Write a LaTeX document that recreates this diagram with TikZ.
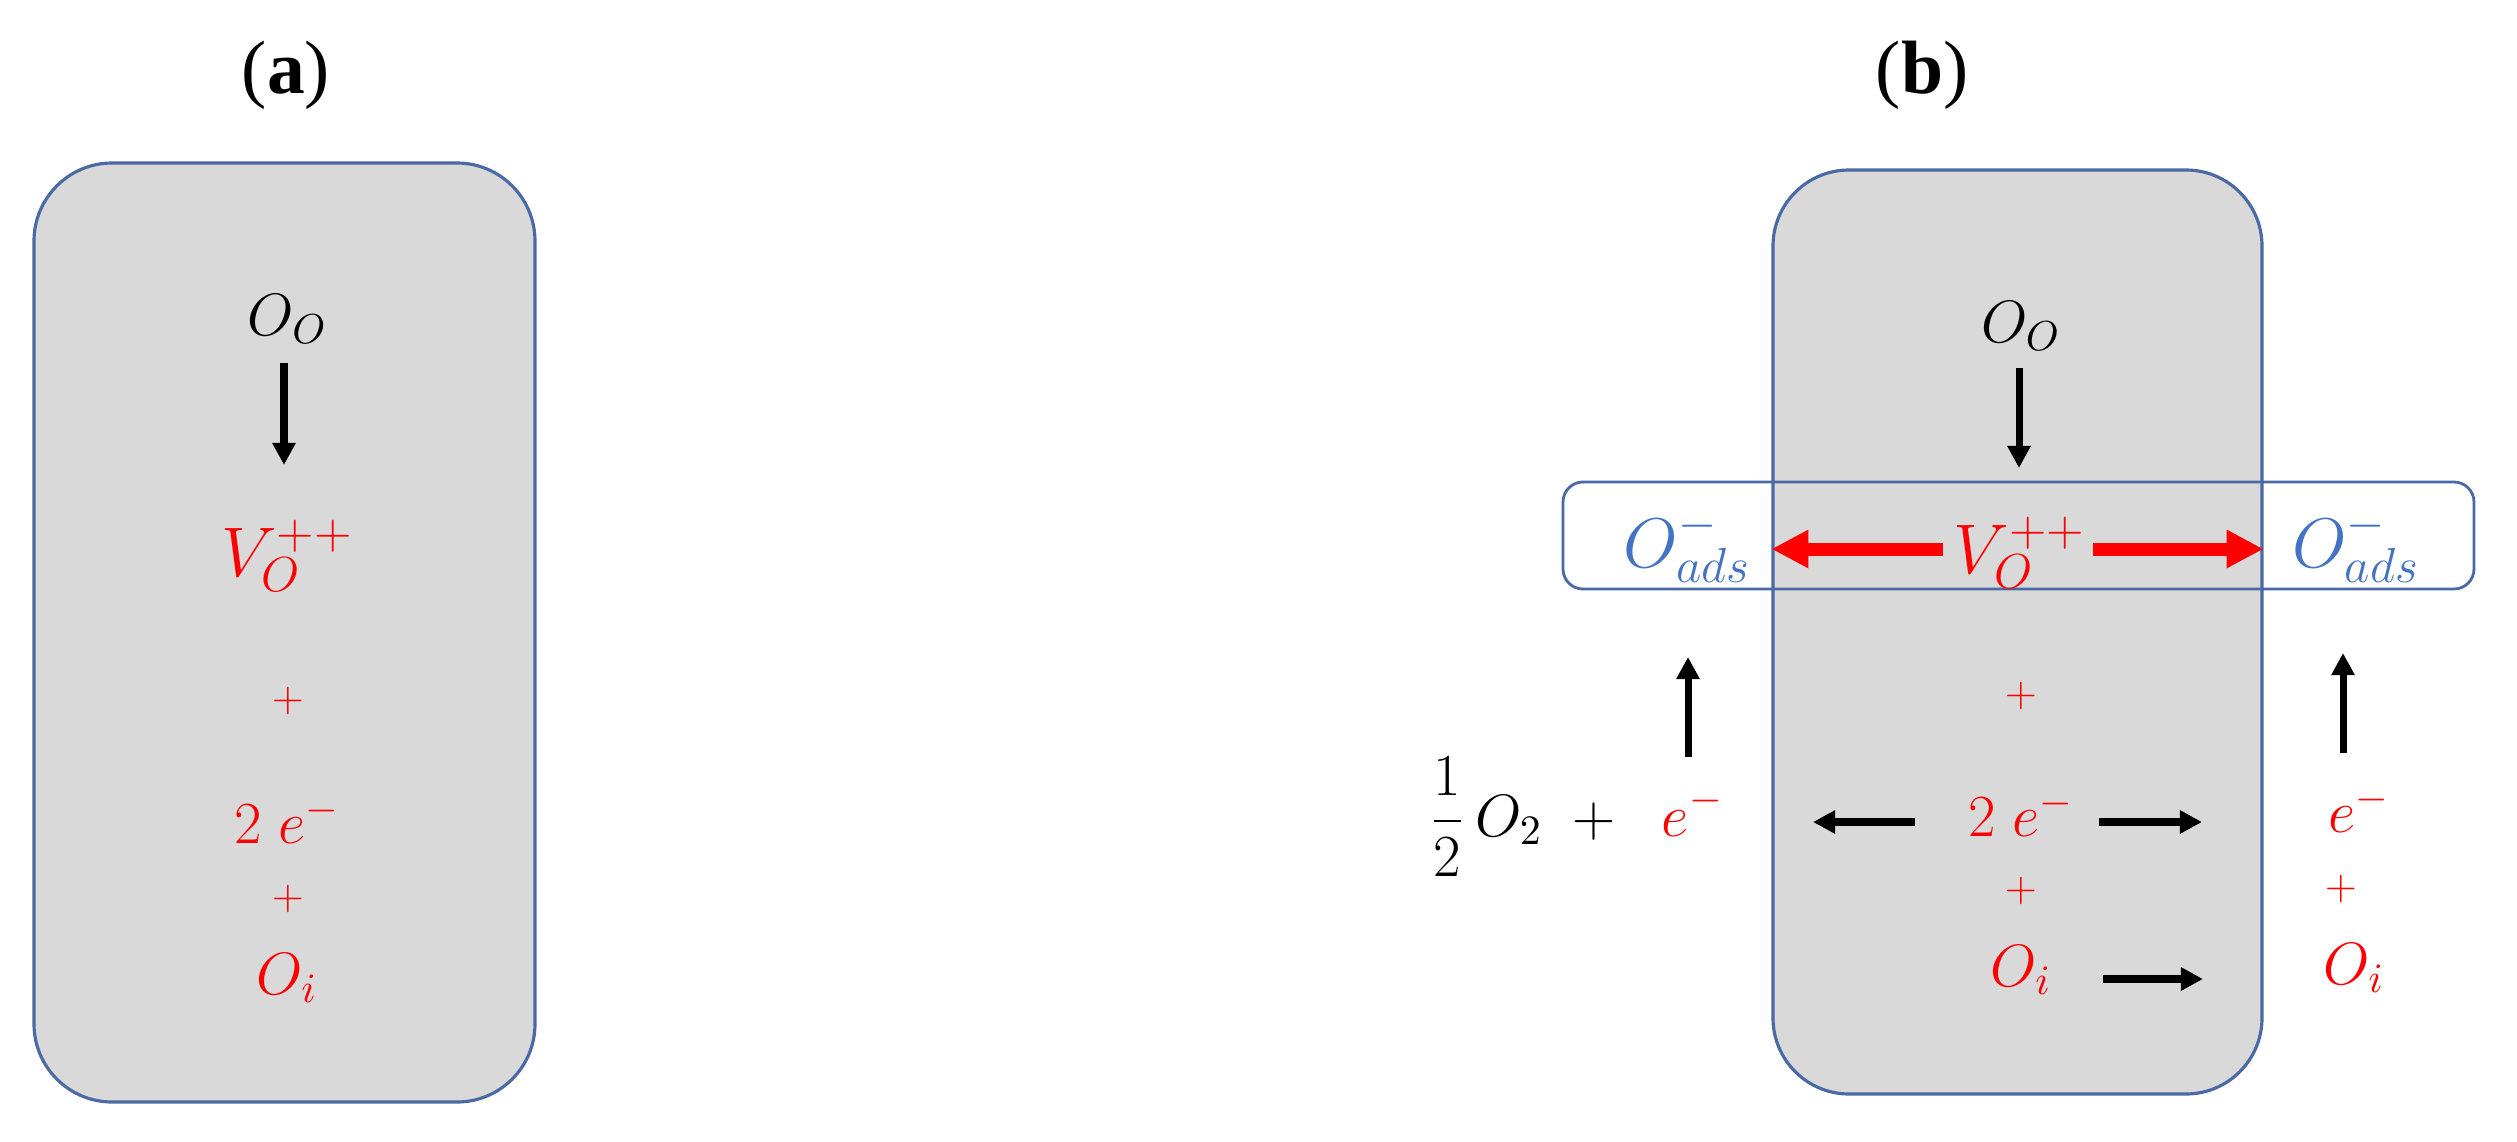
\RequirePackage{fix-cm}
\documentclass[tikz,border=0pt]{standalone}
\usepackage[no-math]{fontspec}
\newfontfamily\labfont{Liberation Serif}
\usetikzlibrary{arrows.meta}
\definecolor{boxfill}{HTML}{D9D9D9}
\definecolor{boxline}{HTML}{4A6AA5}
\definecolor{adsblue}{HTML}{4472C4}
\definecolor{chemred}{HTML}{FF0000}
\begin{document}
\begin{tikzpicture}[x=0.1mm,y=-0.1mm,
  panel/.style={draw=boxline, fill=boxfill, line width=0.9pt, inner sep=0pt},
  band/.style={draw=boxline, line width=0.8pt, rounded corners=2mm, inner sep=0pt, minimum width=91.1mm, minimum height=10.7mm},
  lbl/.style={font=\labfont\fontsize{21.5}{24}\selectfont, inner sep=0pt},
  big/.style={font=\fontsize{20}{24}\selectfont, inner sep=0pt},
  mid/.style={font=\fontsize{17}{20}\selectfont, inner sep=0pt},
  sml/.style={font=\fontsize{12}{14}\selectfont, inner sep=0pt, text=chemred},
  blackarrow/.style={-{Triangle[length=6.3pt,width=6.3pt]}, line width=2pt},
  redarrow/.style={draw=chemred, -{Triangle[length=10.5pt,width=10.2pt]}, line width=3.7pt}
]
\useasboundingbox (0,0) rectangle (2517,1142);

% ---------------- panel (a)
\node[lbl, anchor=base] (laba) at (286,93) {(\textbf{a})};
\node[panel, rounded corners=7.8mm, minimum width=50.1mm, minimum height=93.9mm] (pa) at (284.5,632.5) {};
\node[mid, anchor=base] (ooa) at (287.5,335) {$O_O$};
\coordinate (ooas) at (284,363);
\coordinate (vaan) at (284,465);
\draw[blackarrow] (ooas) -- (vaan);
\node[big, anchor=base, text=chemred] (va) at (287.5,576) {$V_O^{++}$};
\node[sml] (pa1) at (288,701) {$+$};
\node[mid, anchor=base, text=chemred] (ea) at (287,843) {$2\;e^-$};
\node[sml] (pa2) at (288,899) {$+$};
\node[mid, anchor=base, text=chemred] (oia) at (287,994) {$O_i$};

% ---------------- panel (b)
\node[lbl, anchor=base] (labb) at (1922,93) {(\textbf{b})};
\node[panel, rounded corners=7.6mm, minimum width=48.9mm, minimum height=92.4mm] (pb) at (2017.5,632) {};
\node[band] (hb) at (2018.5,535.5) {};
\node[mid, anchor=base] (oob) at (2021,342) {$O_O$};
\coordinate (oobs) at (2019,368);
\coordinate (vbn) at (2019,468);
\draw[blackarrow] (oobs) -- (vbn);
\node[big, anchor=base, text=chemred] (vb) at (2020,573) {$V_O^{++}$};
\node[big, anchor=base, text=adsblue] (adl) at (1687.5,567) {$O_{ads}^-$};
\node[big, anchor=base, text=adsblue] (adr) at (2356,567) {$O_{ads}^-$};
\coordinate (rl0) at (1943,549);
\coordinate (rr0) at (2093,549);
\draw[redarrow] (rl0) -- (pb.west |- rl0);
\draw[redarrow] (rr0) -- (pb.east |- rr0);

\node[sml] (pb1) at (2021,696) {$+$};
\node[mid, anchor=base, text=chemred] (eb) at (2021,836) {$2\;e^-$};
\coordinate (ebl0) at (1915,822);
\coordinate (ebl1) at (1813,822);
\coordinate (ebr0) at (2099,822);
\coordinate (ebr1) at (2202,822);
\draw[blackarrow] (ebl0) -- (ebl1);
\draw[blackarrow] (ebr0) -- (ebr1);
\node[sml] (pb2) at (2021,891) {$+$};
\node[mid, anchor=base, text=chemred] (oib) at (2021,986) {$O_i$};
\coordinate (oi0) at (2103,979);
\coordinate (oi1) at (2203,979);
\draw[blackarrow] (oi0) -- (oi1);

% left side
\node[mid, anchor=base east] (half) at (1724,836) {$\displaystyle\frac{1}{2}\,O_2\;+\;\;\textcolor{chemred}{e^-}$};
\coordinate (ul0) at (1688,757);
\coordinate (ul1) at (1688,657);
\draw[blackarrow] (ul0) -- (ul1);

% right side
\node[mid, anchor=base, text=chemred] (er) at (2359,832) {$e^-$};
\node[sml] (pr) at (2341,889) {$+$};
\node[mid, anchor=base, text=chemred] (oir) at (2354,984) {$O_i$};
\coordinate (ur0) at (2343,753);
\coordinate (ur1) at (2343,653);
\draw[blackarrow] (ur0) -- (ur1);
\end{tikzpicture}
\end{document}
